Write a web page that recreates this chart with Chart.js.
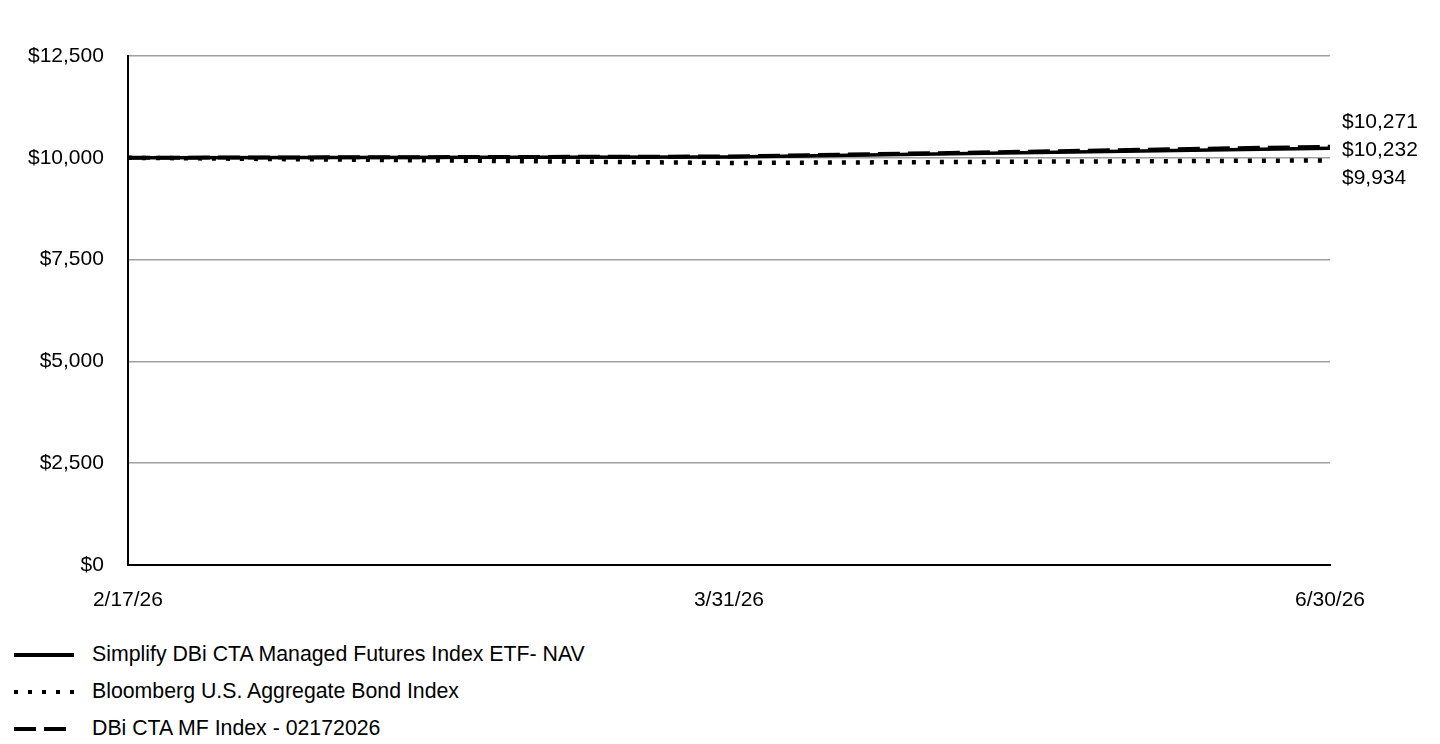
<!DOCTYPE html>
<html>
<head>
<meta charset="utf-8">
<script src="https://cdn.jsdelivr.net/npm/chart.js@4"></script>
<style>
  html, body { margin: 0; padding: 0; background: #fff; }
  body { width: 1440px; height: 744px; position: relative; overflow: hidden; font-family: "Liberation Sans", Arial, sans-serif; }
  #wrap { position: absolute; left: 0; top: 0; width: 1440px; height: 636px; }
  #legend { position: absolute; left: 14px; top: 636px; font-size: 21.3px; color: #000; }
  #legend .item { display: flex; align-items: center; height: 37px; }
  #legend svg { width: 60px; height: 10px; margin-right: 18px; }
</style>
</head>
<body>
<div id="wrap"><canvas id="growthChart"></canvas></div>
<div id="legend"></div>
<script>
// ===========================
// GROWTH OF $10,000
// ===========================
const dateLabels = ['2/17/26', '3/31/26', '6/30/26'];
const fundValues = [10000, 10020, 10232];
const bondValues = [10000, 9872, 9934];
const indexValues = [10000, 10030, 10271];
const yTicks = [0, 2500, 5000, 7500, 10000, 12500];

const seriesNames = [
    'Simplify DBi CTA Managed Futures Index ETF- NAV',
    'Bloomberg U.S. Aggregate Bond Index',
    'DBi CTA MF Index - 02172026'
];

const money = v => '$' + Math.round(v).toLocaleString('en-US');
const fontSize = 21;

// end-of-line value labels, spread apart so they don't overlap
const endLabels = {
    id: 'endLabels',
    afterDatasetsDraw(chart) {
        const { ctx, chartArea } = chart;
        const y = chart.scales.y;
        const items = chart.data.datasets.map(ds => {
            const v = ds.data[ds.data.length - 1];
            return { text: money(v), y: y.getPixelForValue(v) };
        }).sort((a, b) => a.y - b.y);
        const gap = 28;
        const mean = items.reduce((s, i) => s + i.y, 0) / items.length;
        const start = mean - gap * (items.length - 1) / 2 - 2;
        items.forEach((it, i) => { it.ly = start + i * gap; });
        ctx.save();
        ctx.font = fontSize + 'px "Liberation Sans", Arial, sans-serif';
        ctx.fillStyle = '#000';
        ctx.textBaseline = 'middle';
        ctx.textAlign = 'left';
        items.forEach(it => ctx.fillText(it.text, chartArea.right + 12, it.ly));
        ctx.restore();
    }
};

const lineStyles = [
    { borderDash: [], borderWidth: 3.5 },
    { borderDash: [4, 10], borderWidth: 4.5 },
    { borderDash: [22, 8], borderWidth: 4 }
];

new Chart(document.getElementById('growthChart'), {
    type: 'line',
    data: {
        labels: dateLabels,
        datasets: [fundValues, bondValues, indexValues].map((vals, i) => ({
            label: seriesNames[i],
            data: vals,
            borderColor: '#000',
            borderWidth: lineStyles[i].borderWidth,
            borderDash: lineStyles[i].borderDash,
            borderCapStyle: 'butt',
            pointRadius: 0,
            tension: 0,
            fill: false
        }))
    },
    options: {
        responsive: true,
        maintainAspectRatio: false,
        animation: false,
        layout: { padding: { top: 56, right: 110, left: 4, bottom: 0 } },
        plugins: {
            legend: { display: false },
            tooltip: { enabled: false }
        },
        scales: {
            x: {
                offset: false,
                grid: { display: false, drawTicks: false },
                border: { color: '#000', width: 2 },
                ticks: {
                    color: '#000',
                    font: { family: '"Liberation Sans", Arial', size: fontSize },
                    padding: 23,
                    maxRotation: 0,
                    autoSkip: false
                }
            },
            y: {
                min: 0,
                max: 12500,
                afterBuildTicks: axis => { axis.ticks = yTicks.map(v => ({ value: v })); },
                grid: { color: '#a0a0a0', lineWidth: 1.5, drawTicks: false },
                border: { color: '#000', width: 2 },
                ticks: {
                    color: '#000',
                    font: { family: '"Liberation Sans", Arial', size: fontSize },
                    padding: 24,
                    callback: v => money(v)
                }
            }
        }
    },
    plugins: [endLabels]
});

// legend below the chart
const legendEl = document.getElementById('legend');
seriesNames.forEach((name, i) => {
    const dash = lineStyles[i].borderDash.join(',');
    legendEl.insertAdjacentHTML('beforeend',
        '<div class="item"><svg viewBox="0 0 60 10"><line x1="0" y1="5" x2="60" y2="5" stroke="#000" stroke-width="4"' +
        (dash ? ' stroke-dasharray="' + dash + '"' : '') + '/></svg><span>' + name + '</span></div>');
});
</script>
</body>
</html>
